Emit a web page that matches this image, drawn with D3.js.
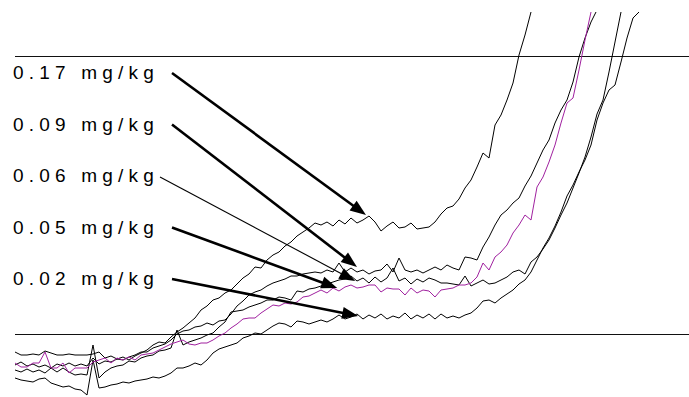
<!DOCTYPE html>
<html><head><meta charset="utf-8">
<script src="https://cdn.jsdelivr.net/npm/d3@7"></script>
<style>html,body{margin:0;padding:0;background:#fff;overflow:hidden}</style>
</head><body><div id="chart"></div>
<script>
// Dose labels (legend text)
const doseLabels = ["0.17 mg/kg", "0.09 mg/kg", "0.06 mg/kg", "0.05 mg/kg", "0.02 mg/kg"];

// Response traces, one value per sample (sample index = position in array)
const dose017 = [-18,-21,-21,-20,-21,-17,-19,-21,-21,-20,-21,-21,-21,-20,-18,-24,-22,-25,-23,-26,-22,-19,-16,-11,-8,-9,-3,2,6,11,16,24,28,34,36,41,44,50,56,60,67,66,74,79,82,88,92,98,102,106,111,109,112,108,114,110,116,111,114,118,112,103,108,112,106,107,111,105,106,107,112,120,126,128,135,146,154,167,181,176,209,219,234,251,279,299,322];
const dose009 = [-31,-28,-32,-30,-33,-31,-34,-30,-32,-29,-32,-30,-32,-24,-30,-27,-28,-25,-26,-23,-21,-18,-18,-14,-12,-10,-6,0,3,4,7,8,11,9,13,14,20,28,33,39,42,44,48,51,53,55,58,58,60,61,62,61,64,62,71,62,66,62,64,60,63,64,70,62,76,64,62,64,61,64,67,64,69,66,64,77,76,74,87,97,109,119,124,131,136,148,158,171,184,194,211,224,234,252,277,296,312,324];
const dose006 = [-36,-38,-35,-38,-36,-39,-34,-38,-34,-38,-41,-40,-41,-11,-44,-38,-34,-32,-31,-27,-28,-24,-22,-21,-17,-16,-14,4,-11,-8,-6,-4,-1,1,7,12,22,23,24,27,29,31,34,34,37,36,34,43,42,45,46,48,50,52,54,55,58,53,56,51,57,52,56,66,53,56,50,55,52,56,54,51,51,50,49,58,48,51,54,50,51,54,57,62,64,60,72,77,85,94,106,119,131,146,161,177,197,220,234,262,292,322];
const dose005 = [-29,-33,-33,-29,-29,-18,-34,-34,-29,-39,-34,-34,-34,-28,-26,-24,-29,-24,-26,-23,-26,-21,-20,-19,-16,-13,-10,-8,-6,-10,-11,-9,-9,-6,-2,1,6,10,15,16,16,21,25,29,28,31,30,32,37,38,41,44,41,46,43,47,49,46,47,49,49,42,46,45,45,39,46,41,44,43,37,44,45,46,49,49,51,57,71,64,77,82,89,101,109,119,114,147,157,172,189,211,231,236,264,294,322];
const dose002 = [-44,-46,-47,-48,-45,-44,-49,-51,-53,-52,-55,-56,-61,-26,-54,-53,-51,-50,-48,-49,-47,-46,-45,-43,-44,-42,-39,-34,-34,-32,-29,-31,-26,-19,-15,-13,-11,-9,-4,-2,1,0,4,8,11,10,7,13,12,10,12,14,12,15,19,15,17,20,15,19,16,20,15,18,16,21,15,19,16,20,15,20,16,18,16,19,21,26,33,34,31,36,40,44,50,54,62,74,86,96,108,122,138,149,162,174,189,214,231,244,249,272,296,316,322];

const seriesColors = ["#000000", "#000000", "#000000", "#a0219f", "#000000"];
// Arrow targets in data units: [sample index, response]
const arrowTargets = [[58.5, 119], [57, 67], [56.7, 53], [53.7, 46], [57.2, 18]];
const arrowThick = [true, true, false, true, true];
// Reference levels (horizontal rules)
const refLevels = [0, 278];

const W = 689, H = 397;
const svg = d3.select("#chart").append("svg").attr("width", W).attr("height", H)
  .style("background", "#fff").style("display", "block");

const x = d3.scaleLinear().domain([0, 104]).range([15, 639]);
const y = d3.scaleLinear().domain([0, 278]).range([334, 56]);

svg.append("defs").append("clipPath").attr("id", "clip")
  .append("rect").attr("x", 0).attr("y", y(322)).attr("width", W).attr("height", H);

// reference rules
svg.selectAll("line.ref").data(refLevels).join("line").attr("class", "ref")
  .attr("x1", 15).attr("x2", W).attr("y1", d => y(d)).attr("y2", d => y(d))
  .attr("stroke", "#111").attr("stroke-width", 1).attr("shape-rendering", "crispEdges");

const series = [dose017, dose009, dose006, dose005, dose002];
const line = d3.line().x((d, i) => x(i)).y(d => y(d));
const order = [0, 1, 2, 4, 3];
const g = svg.append("g").attr("clip-path", "url(#clip)");
order.forEach(k => {
  g.append("path").datum(series[k]).attr("d", line)
    .attr("fill", "none").attr("stroke", seriesColors[k]).attr("stroke-width", 1)
    .attr("stroke-linejoin", "miter");
});

// labels
const ly = d3.scalePoint().domain(doseLabels).range([79, 285]);
svg.selectAll("text.lab").data(doseLabels).join("text").attr("class", "lab")
  .attr("x", 13).attr("y", d => ly(d))
  .attr("font-family", "'Liberation Sans', Arial, sans-serif")
  .attr("font-size", 19).attr("letter-spacing", "5.2px").attr("fill", "#000")
  .text(d => d);

// arrows
doseLabels.forEach((lab, i) => {
  const thick = arrowThick[i];
  const x0 = thick ? 172 : 160, y0 = ly(lab) - (thick ? 6 : 5);
  const tx = x(arrowTargets[i][0]), ty = y(arrowTargets[i][1]);
  const ang = Math.atan2(ty - y0, tx - x0);
  const hl = 16, hw = 6;
  const bx = tx - hl * Math.cos(ang), by = ty - hl * Math.sin(ang);
  svg.append("line").attr("x1", x0).attr("y1", y0).attr("x2", bx + 2 * Math.cos(ang)).attr("y2", by + 2 * Math.sin(ang))
    .attr("stroke", "#000").attr("stroke-width", thick ? 2.6 : 1.1);
  const px = -Math.sin(ang), py = Math.cos(ang);
  svg.append("path").attr("d", `M${tx},${ty}L${bx + px * hw},${by + py * hw}L${bx - px * hw},${by - py * hw}Z`)
    .attr("fill", "#000");
});
</script>
</body></html>
